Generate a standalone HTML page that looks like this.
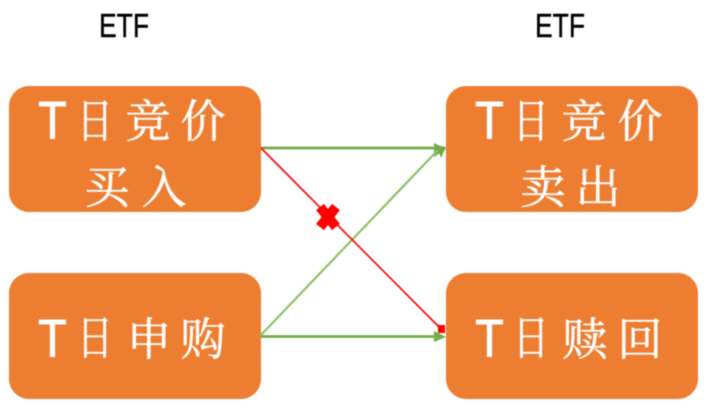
<!DOCTYPE html>
<html>
<head>
<meta charset="utf-8">
<style>
html,body{margin:0;padding:0;background:#fff;width:708px;height:408px;overflow:hidden}
svg{display:block;filter:blur(0.6px)}
.c{font-family:"Liberation Serif","Noto Serif CJK SC",serif;font-size:45px;fill:#fff;stroke:#fff;stroke-width:.5px;text-anchor:middle;font-weight:400}
.t{font-family:"Liberation Sans",sans-serif;font-size:53px;fill:#fff;stroke:#fff;stroke-width:.9px;text-anchor:middle;font-weight:400}
.e{font-family:"Liberation Sans",sans-serif;font-size:33px;fill:#000;stroke:#000;stroke-width:.4px}
</style>
</head>
<body>
<svg width="708" height="408" viewBox="0 0 708 408" xmlns="http://www.w3.org/2000/svg">
<text class="e" x="99" y="37" textLength="50" lengthAdjust="spacingAndGlyphs">ETF</text>
<text class="e" x="535" y="37" textLength="50" lengthAdjust="spacingAndGlyphs">ETF</text>

<rect x="9" y="86" width="252" height="126" rx="20" fill="#ed7d31"/>
<rect x="446" y="86" width="252" height="126" rx="20" fill="#ed7d31"/>
<rect x="9" y="273" width="252" height="126" rx="20" fill="#ed7d31"/>
<rect x="446" y="273" width="252" height="126" rx="20" fill="#ed7d31"/>

<text class="t" transform="translate(52.5 138.5) scale(.88 1)">T</text>
<text class="c" transform="translate(95 137.5) scale(.8 1.05)">日</text>
<text class="c" x="148" y="137">竞</text>
<text class="c" x="203" y="137">价</text>
<text class="c" x="107" y="203">买</text>
<text class="c" x="164" y="203">入</text>

<text class="t" transform="translate(489.5 138.5) scale(.88 1)">T</text>
<text class="c" transform="translate(531 137.5) scale(.8 1.05)">日</text>
<text class="c" x="584" y="137">竞</text>
<text class="c" x="640" y="137">价</text>
<text class="c" x="543" y="203">卖</text>
<text class="c" x="598" y="203">出</text>

<text class="t" transform="translate(52.5 356.5) scale(.88 1)">T</text>
<text class="c" transform="translate(95 354.5) scale(.8 1.05)">日</text>
<text class="c" x="149" y="355">申</text>
<text class="c" x="203" y="355">购</text>

<text class="t" transform="translate(489.5 356.5) scale(.88 1)">T</text>
<text class="c" transform="translate(531 354.5) scale(.8 1.05)">日</text>
<text class="c" x="585" y="355">赎</text>
<text class="c" x="640" y="355">回</text>

<line x1="261" y1="148" x2="438" y2="148" stroke="#70ad47" stroke-width="2.8"/>
<polygon points="434,143 446,149 434,157" fill="#70ad47"/>
<line x1="260" y1="336" x2="438" y2="150" stroke="#8cc168" stroke-width="2.2"/>
<polygon points="436,145 446,147 441,158" fill="#70ad47"/>
<line x1="261" y1="336.5" x2="438" y2="336.5" stroke="#70ad47" stroke-width="2.8"/>
<polygon points="434,331 446,337 434,342" fill="#70ad47"/>
<line x1="261" y1="148" x2="442" y2="330" stroke="#ff0000" stroke-width="1.6"/>
<rect x="438" y="325" width="7" height="8" fill="#ff0000"/>
<path d="M320 207 L336 227 M336 207 L320 227" stroke="#ff0000" stroke-width="10" stroke-linecap="butt" fill="none"/>
</svg>
</body>
</html>
